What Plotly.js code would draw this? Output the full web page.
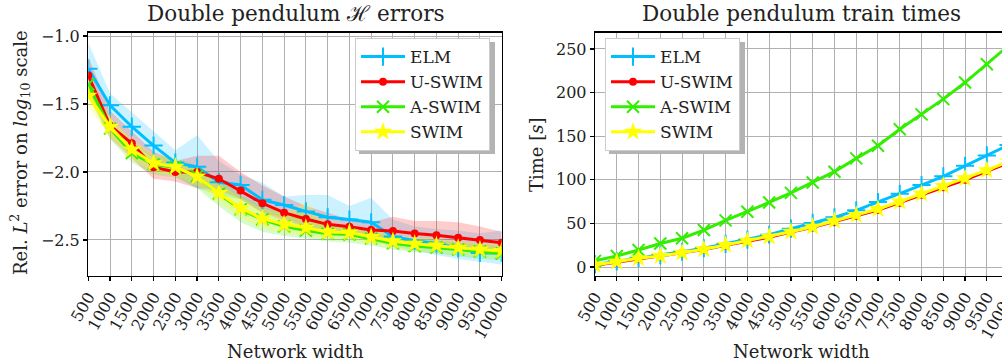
<!DOCTYPE html>
<html>
<head>
<meta charset="utf-8">
<script src="https://cdn.plot.ly/plotly-3.0.1.min.js"></script>
<style>
html,body{margin:0;padding:0;overflow:hidden;background:#fff;}
#chart{width:1010px;height:364px;}
</style>
</head>
<body>
<div id="chart"></div>
<script>
// ---- data ----
const widths = [500,1000,1500,2000,2500,3000,3500,4000,4500,5000,5500,6000,6500,7000,7500,8000,8500,9000,9500,10000];
const tickLabels = ["500","1000","1500","2000","2500","3000","3500","4000","4500","5000","5500","6000","6500","7000","7500","8000","8500","9000","9500","10000"];
const seriesNames = ["ELM","U-SWIM","A-SWIM","SWIM"];

// errors (log10 of relative L2 error)
const errELM   = [-1.24,-1.51,-1.667,-1.806,-1.931,-1.962,-2.075,-2.095,-2.205,-2.243,-2.29,-2.333,-2.35,-2.37,-2.475,-2.505,-2.525,-2.56,-2.595,-2.595];
const errUSWIM = [-1.29,-1.66,-1.789,-1.965,-2.0,-2.0,-2.05,-2.137,-2.23,-2.299,-2.346,-2.385,-2.402,-2.426,-2.434,-2.453,-2.465,-2.483,-2.5,-2.52];
const errASWIM = [-1.355,-1.68,-1.86,-1.945,-1.966,-2.03,-2.16,-2.275,-2.35,-2.40,-2.43,-2.455,-2.46,-2.49,-2.525,-2.545,-2.555,-2.57,-2.585,-2.60];
const errSWIM  = [-1.44,-1.667,-1.835,-1.935,-1.962,-2.034,-2.155,-2.265,-2.343,-2.385,-2.41,-2.442,-2.445,-2.478,-2.51,-2.528,-2.54,-2.557,-2.571,-2.582];

// spread bands (upper / lower)
const bandELMUp   = [-1.05,-1.42,-1.56,-1.70,-1.84,-1.73,-1.92,-2.02,-2.08,-2.18,-2.17,-2.17,-2.25,-2.19,-2.35,-2.40,-2.42,-2.43,-2.45,-2.43];
const bandELMLo   = [-1.42,-1.60,-1.78,-1.90,-2.03,-2.12,-2.17,-2.20,-2.30,-2.34,-2.40,-2.45,-2.45,-2.50,-2.55,-2.58,-2.61,-2.64,-2.66,-2.68];
const bandUSWIMUp = [-1.15,-1.55,-1.70,-1.85,-1.92,-1.88,-1.88,-2.00,-2.10,-2.18,-2.25,-2.30,-2.35,-2.37,-2.33,-2.36,-2.36,-2.37,-2.40,-2.44];
const bandUSWIMLo = [-1.42,-1.75,-1.90,-2.05,-2.07,-2.12,-2.13,-2.20,-2.30,-2.36,-2.40,-2.44,-2.45,-2.48,-2.50,-2.52,-2.54,-2.56,-2.58,-2.60];
const bandASWIMUp = [-1.28,-1.60,-1.78,-1.88,-1.90,-1.95,-2.05,-2.17,-2.25,-2.30,-2.30,-2.40,-2.41,-2.44,-2.47,-2.49,-2.50,-2.52,-2.53,-2.55];
const bandASWIMLo = [-1.45,-1.76,-1.93,-2.02,-2.04,-2.12,-2.25,-2.37,-2.44,-2.47,-2.49,-2.51,-2.52,-2.54,-2.57,-2.59,-2.60,-2.62,-2.64,-2.65];
const bandSWIMUp  = [-1.33,-1.60,-1.76,-1.87,-1.90,-1.97,-2.08,-2.19,-2.27,-2.30,-2.22,-2.36,-2.40,-2.43,-2.46,-2.48,-2.49,-2.51,-2.52,-2.53];
const bandSWIMLo  = [-1.52,-1.74,-1.90,-2.00,-2.03,-2.10,-2.22,-2.34,-2.41,-2.45,-2.47,-2.49,-2.50,-2.53,-2.56,-2.58,-2.59,-2.61,-2.62,-2.64];

// train times [s]
const timeELM   = [3,6.5,10.5,13.5,17.5,21.5,26.5,31.5,37,44,50.5,57,65,74.5,84,94,104,116,128,140];
const timeUSWIM = [2,5.5,9.5,12.3,16,20,24.8,29.7,34.2,40,45.5,52,58.5,65.3,73.8,83,91.5,100,110,119.5];
const timeASWIM = [7,12.6,19.5,27,33,42.4,53.5,63.4,74,85,97,109.3,124.6,139,158,175,192.5,211.5,232.4,254];
const timeSWIM  = [2.3,6,10,12.6,16.4,20.3,25.2,30.2,34.8,40.5,46.2,53,59.6,66.5,75,84,93,101.7,111,121];

// ---- styles ----
const colors = ["#00bfff","#ff0000","#33ee00","#ffff00"];
const fills  = ["rgba(0,191,255,0.2)","rgba(255,0,0,0.2)","rgba(51,238,0,0.2)","rgba(255,255,0,0.25)"];
const symbols = ["cross-thin","circle","x-thin","star"];
const msizes = [13,8,12,14];
const FONT = "DejaVu Serif";

const errs = [errELM,errUSWIM,errASWIM,errSWIM];
const ups = [bandELMUp,bandUSWIMUp,bandASWIMUp,bandSWIMUp];
const los = [bandELMLo,bandUSWIMLo,bandASWIMLo,bandSWIMLo];
const times = [timeELM,timeUSWIM,timeASWIM,timeSWIM];

const traces = [];
for (let s=0;s<4;s++){
  traces.push({x:widths.concat(widths.slice().reverse()), y:ups[s].concat(los[s].slice().reverse()),
    type:'scatter', mode:'none', fill:'toself', fillcolor:fills[s], hoverinfo:'skip', showlegend:false,
    xaxis:'x', yaxis:'y'});
}
function markerFor(s){
  const m = {symbol:symbols[s], size:msizes[s], color:colors[s]};
  if (s===0 || s===2) m.line = {color:colors[s], width:2};
  else m.line = {width:0};
  return m;
}
for (let s=0;s<4;s++){
  traces.push({x:widths, y:errs[s], type:'scatter', mode:'lines+markers', name:seriesNames[s],
    line:{color:colors[s], width:3}, marker:markerFor(s), xaxis:'x', yaxis:'y', legend:'legend'});
}
for (let s=0;s<4;s++){
  traces.push({x:widths, y:times[s], type:'scatter', mode:'lines+markers', name:seriesNames[s],
    line:{color:colors[s], width:3}, marker:markerFor(s), xaxis:'x2', yaxis:'y2', legend:'legend2'});
}

const W = 1010, H = 364;
const px = v => v/W, py = v => 1 - v/H;
const yDom = [py(276), py(32.5)];
const axisCommon = {showgrid:true, gridcolor:'#b0b0b0', gridwidth:1, showline:true, mirror:true,
  linecolor:'#000', linewidth:1.3, ticks:'outside', ticklen:4, tickwidth:1.2, tickcolor:'#000',
  zeroline:false, ticklabeloverflow:'allow', tickfont:{family:FONT, size:16, color:'#222'}};
const xCommon = Object.assign({}, axisCommon, {tickvals:widths, ticktext:tickLabels, tickangle:-60, range:[500,10000]});

const legendCommon = {bgcolor:'#ffffff', bordercolor:'#cccccc', borderwidth:1, itemwidth:44,
  font:{family:FONT, size:17, color:'#222'}, xanchor:'left', yanchor:'top', tracegroupgap:0};

const shadow = (x0,y0,x1,y1) => ({type:'rect', xref:'paper', yref:'paper', x0:px(x0), x1:px(x1), y0:py(y1), y1:py(y0),
  fillcolor:'#b3b3b3', line:{width:0}, layer:'above'});

const layout = {
  width:W, height:H, margin:{l:0,r:0,t:0,b:0}, paper_bgcolor:'#fff', plot_bgcolor:'#fff',
  showlegend:true,
  xaxis:Object.assign({}, xCommon, {domain:[px(88.3), px(501.7)], anchor:'y'}),
  yaxis:Object.assign({}, axisCommon, {domain:yDom, range:[-2.765,-0.974], tickvals:[-2.5,-2.0,-1.5,-1.0], tickformat:'.1f', anchor:'x'}),
  xaxis2:Object.assign({}, xCommon, {domain:[px(595), px(1008.6)], anchor:'y2'}),
  yaxis2:Object.assign({}, axisCommon, {domain:yDom, range:[-10.3,268.9], tickvals:[0,50,100,150,200,250], anchor:'x2'}),
  legend:Object.assign({}, legendCommon, {x:px(355), y:py(38)}),
  legend2:Object.assign({}, legendCommon, {x:px(605), y:py(38)}),
  shapes:[shadow(359,42,495,154), shadow(609,42,745,154)],
  annotations:[
    {text:'Double pendulum ℋ errors', x:px(295.5), y:py(14), xref:'paper', yref:'paper', showarrow:false, xanchor:'center', yanchor:'middle', font:{family:FONT, size:21.5, color:'#222'}},
    {text:'Double pendulum train times', x:px(801.5), y:py(14), xref:'paper', yref:'paper', showarrow:false, xanchor:'center', yanchor:'middle', font:{family:FONT, size:21.5, color:'#222'}},
    {text:'Network width', x:px(295), y:py(351), xref:'paper', yref:'paper', showarrow:false, xanchor:'center', yanchor:'middle', font:{family:FONT, size:18, color:'#222'}},
    {text:'Network width', x:px(801), y:py(351), xref:'paper', yref:'paper', showarrow:false, xanchor:'center', yanchor:'middle', font:{family:FONT, size:18, color:'#222'}},
    {text:'Rel. <i>L</i><sup>2</sup> error on <i>log</i><sub>10</sub> scale', x:px(20), y:py(153), xref:'paper', yref:'paper', showarrow:false, textangle:-90, xanchor:'center', yanchor:'middle', font:{family:FONT, size:18, color:'#222'}},
    {text:'Time [<i>s</i>]', x:px(536), y:py(155), xref:'paper', yref:'paper', showarrow:false, textangle:-90, xanchor:'center', yanchor:'middle', font:{family:FONT, size:18, color:'#222'}}
  ]
};

Plotly.newPlot('chart', traces, layout, {displayModeBar:false, staticPlot:true});
</script>
</body>
</html>
